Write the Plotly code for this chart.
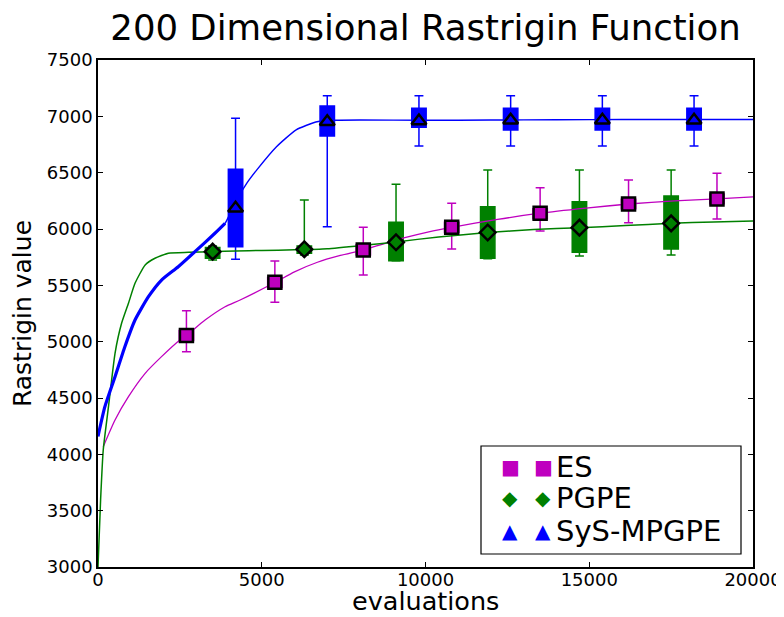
import plotly.graph_objects as go

# ---- curve data (evaluations vs mean Rastrigin value) ----
es_curve_x = [160, 520, 930, 1440, 1940, 2500, 2700, 3270, 3880, 4340, 5400, 6000, 6700,
              7400, 8100, 9400, 10100, 10800, 12200, 13500, 14900, 16200, 17600, 18900, 20000]
es_curve_y = [4068, 4305, 4512, 4719, 4867, 5015, 5055, 5192, 5310, 5370, 5525, 5620, 5705,
              5765, 5815, 5925, 5975, 6015, 6085, 6140, 6185, 6222, 6250, 6268, 6285]

pgpe_curve_x = [0, 80, 160, 320, 520, 720, 930, 1130, 1440, 1740, 2150, 2760, 3500, 4200,
                5000, 6000, 7000, 8100, 9100, 10400, 11900, 13300, 14700, 16100, 17500, 18800, 20000]
pgpe_curve_y = [3000, 3600, 4039, 4423, 4897, 5163, 5341, 5518, 5681, 5740, 5785, 5793, 5799,
                5805, 5810, 5815, 5825, 5855, 5885, 5930, 5968, 5995, 6012, 6030, 6050, 6063, 6070]

sys_curve_x = [0, 210, 520, 820, 1130, 1540, 1940, 2450, 2960, 3570, 3880, 4200, 4540, 4850,
               5450, 6050, 6650, 7100, 8000, 10000, 12000, 14000, 16000, 18000, 20000]
sys_curve_y = [4160, 4423, 4689, 4955, 5192, 5399, 5547, 5665, 5799, 5962, 6050, 6240, 6405,
               6525, 6730, 6880, 6950, 6965, 6968, 6965, 6967, 6970, 6972, 6972, 6972]
sys_noisy_points = 11  # early, noisy part of the SyS-MPGPE curve is drawn thicker

# ---- box statistics at sample points ----
es_x = [2700, 5400, 8100, 10800, 13500, 16200, 18900]
es_med = [5055, 5527, 5814, 6015, 6139, 6222, 6266]
es_q1 = [5010, 5480, 5770, 5970, 6090, 6180, 6225]
es_q3 = [5100, 5570, 5860, 6060, 6180, 6265, 6310]
es_lo = [4911, 5350, 5592, 5823, 5982, 6056, 6089]
es_hi = [5275, 5716, 6015, 6228, 6367, 6435, 6494]

pgpe_x = [3500, 6300, 9100, 11900, 14700, 17500]
pgpe_med = [5799, 5820, 5882, 5969, 6012, 6050]
pgpe_q1 = [5740, 5785, 5719, 5740, 5793, 5823]
pgpe_q3 = [5835, 5850, 6060, 6198, 6242, 6293]
pgpe_lo = [5725, 5770, 5715, 5735, 5760, 5769]
pgpe_hi = [5850, 6257, 6397, 6524, 6524, 6524]

sys_x = [4200, 7000, 9800, 12600, 15400, 18200]
sys_med = [6184, 6952, 6958, 6965, 6965, 6965]
sys_q1 = [5843, 6825, 6903, 6879, 6879, 6879]
sys_q3 = [6530, 7092, 7071, 7071, 7071, 7071]
sys_lo = [5731, 6020, 6737, 6737, 6737, 6737]
sys_hi = [6983, 7183, 7183, 7183, 7183, 7183]

names = ["ES", "PGPE", "SyS-MPGPE"]
colors = ["#bf00bf", "#008000", "#0000ff"]
symbols = ["square", "diamond", "triangle-up"]
glyphs = ["■", "◆", "▲"]
msizes = [13, 12, 13]

x_ticks = [0, 5000, 10000, 15000, 20000]
y_ticks = [3000, 3500, 4000, 4500, 5000, 5500, 6000, 6500, 7000, 7500]

FONT = "DejaVu Sans"
PAGE_W, PAGE_H = 784, 617
OFF = 8  # the page body's default margin shifts the figure by this much
W, H = PAGE_W - OFF, PAGE_H - OFF
ML, MR, MT, MB = 98 - OFF, 31, 60 - OFF, 50
PW, PH = W - ML - MR, H - MT - MB


def px(x):  # page pixel -> paper fraction
    return (x - OFF - ML) / PW


def py(y):
    return (H - MB - (y - OFF)) / PH


fig = go.Figure()

boxes = [
    (es_x, es_med, es_q1, es_q3, es_lo, es_hi),
    (pgpe_x, pgpe_med, pgpe_q1, pgpe_q3, pgpe_lo, pgpe_hi),
    (sys_x, sys_med, sys_q1, sys_q3, sys_lo, sys_hi),
]

for (bx, med, q1, q3, lo, hi), c in zip(boxes, colors):
    fig.add_trace(go.Box(
        x=bx, median=med, q1=q1, q3=q3, lowerfence=lo, upperfence=hi,
        width=440, whiskerwidth=0.62, fillcolor=c,
        line=dict(color=c, width=1.5), boxpoints=False,
        showlegend=False, hoverinfo="skip",
    ))

fig.add_trace(go.Scatter(x=es_curve_x, y=es_curve_y, mode="lines",
                         line=dict(color=colors[0], width=1.3, shape="spline", smoothing=0.6),
                         showlegend=False, hoverinfo="skip"))
fig.add_trace(go.Scatter(x=pgpe_curve_x, y=pgpe_curve_y, mode="lines",
                         line=dict(color=colors[1], width=1.5, shape="spline", smoothing=0.5),
                         showlegend=False, hoverinfo="skip"))
fig.add_trace(go.Scatter(x=sys_curve_x, y=sys_curve_y, mode="lines",
                         line=dict(color=colors[2], width=1.4, shape="spline", smoothing=0.5),
                         showlegend=False, hoverinfo="skip"))
fig.add_trace(go.Scatter(x=sys_curve_x[:sys_noisy_points], y=sys_curve_y[:sys_noisy_points],
                         mode="lines",
                         line=dict(color=colors[2], width=3.2, shape="spline", smoothing=0.5),
                         showlegend=False, hoverinfo="skip"))

for (bx, med, *_), c, s, ms in zip(boxes, colors, symbols, msizes):
    fig.add_trace(go.Scatter(
        x=bx, y=med, mode="markers",
        marker=dict(color=c, symbol=s, size=ms, line=dict(color="black", width=2.5)),
        showlegend=False,
    ))

# ---- legend (drawn as a framed box with glyphs + labels) ----
leg_left, leg_right, leg_top, leg_bottom = 481, 741, 446, 554
row_y = [467, 498, 531]
glyph_x = [510, 543]
text_x = 554
shapes = [dict(type="rect", xref="paper", yref="paper",
               x0=px(leg_left), x1=px(leg_right), y0=py(leg_bottom), y1=py(leg_top),
               line=dict(color="black", width=1.2), fillcolor="white", layer="above")]
annotations = []
for n, c, g, ry in zip(names, colors, glyphs, row_y):
    for gx in glyph_x:
        annotations.append(dict(
            xref="paper", yref="paper", x=px(gx), y=py(ry), xanchor="center", yanchor="middle",
            text=g, showarrow=False, font=dict(size=20, color=c, family=FONT)))
    annotations.append(dict(
        xref="paper", yref="paper", x=px(text_x), y=py(ry), xanchor="left", yanchor="middle",
        text=n, showarrow=False, font=dict(size=29, color="black", family=FONT)))

# x-axis title
annotations.append(dict(
    xref="paper", yref="paper", x=0.5, y=py(601), xanchor="center", yanchor="middle",
    text="evaluations", showarrow=False, font=dict(size=25.5, color="black", family=FONT)))

fig.update_layout(
    width=W, height=H,
    margin=dict(l=ML, r=MR, t=MT, b=MB),
    paper_bgcolor="white", plot_bgcolor="white",
    font=dict(family=FONT, color="black"),
    title=dict(text="200 Dimensional Rastrigin Function", font=dict(size=35.5, family=FONT),
               x=0.5, xref="paper", xanchor="center", y=1 - (28 - OFF) / H, yanchor="middle"),
    showlegend=False,
    shapes=shapes,
    annotations=annotations,
)
fig.update_xaxes(
    range=[0, 20000], tickvals=x_ticks, ticktext=[str(v) for v in x_ticks],
    showgrid=False, zeroline=False, showline=True, linecolor="black", linewidth=1.5,
    mirror="allticks", ticks="inside", ticklen=5, tickcolor="black",
    tickfont=dict(size=18, family=FONT), automargin=False, ticklabelstandoff=-4,
)
fig.update_yaxes(
    range=[3000, 7500], tickvals=y_ticks, ticktext=[str(v) for v in y_ticks],
    showgrid=False, zeroline=False, showline=True, linecolor="black", linewidth=1.5,
    mirror="allticks", ticks="inside", ticklen=5, tickcolor="black",
    tickfont=dict(size=18, family=FONT), automargin=False,
    title=dict(text="Rastrigin value", font=dict(size=25, family=FONT), standoff=11),
)

fig.write_html("out.html")
